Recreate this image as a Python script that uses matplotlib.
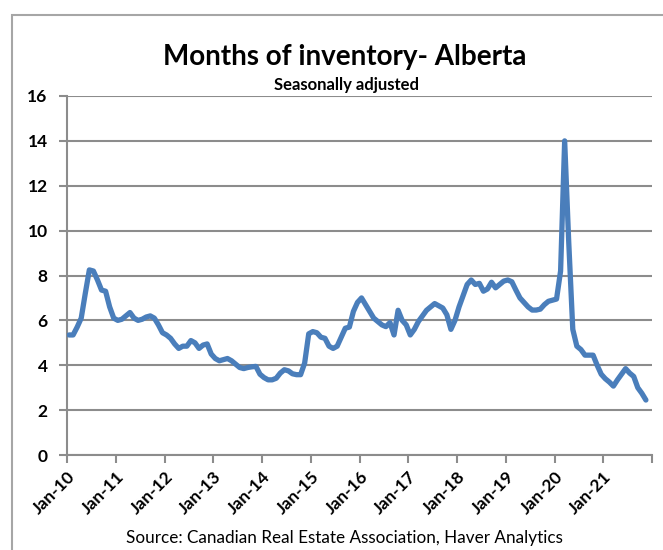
import matplotlib
matplotlib.use("Agg")
import matplotlib.pyplot as plt
from matplotlib.patches import Rectangle

# Monthly months-of-inventory, Jan-2010 .. Nov-2021
values = [
    5.35, 5.35, 5.7, 6.1, 7.2, 8.25, 8.2, 7.8, 7.35, 7.3, 6.6, 6.1,          # 2010
    6.0, 6.05, 6.2, 6.35, 6.1, 6.0, 6.05, 6.15, 6.2, 6.1, 5.8, 5.45,          # 2011
    5.35, 5.2, 4.95, 4.75, 4.85, 4.85, 5.1, 5.0, 4.75, 4.9, 4.95, 4.5,        # 2012
    4.3, 4.2, 4.25, 4.3, 4.2, 4.05, 3.9, 3.85, 3.9, 3.93, 3.95, 3.6,          # 2013
    3.45, 3.35, 3.35, 3.42, 3.65, 3.8, 3.75, 3.62, 3.58, 3.58, 4.1, 5.4,      # 2014
    5.5, 5.45, 5.25, 5.2, 4.85, 4.75, 4.85, 5.25, 5.65, 5.7, 6.4, 6.8,        # 2015
    7.0, 6.7, 6.4, 6.1, 5.95, 5.8, 5.72, 5.9, 5.35, 6.45, 6.0, 5.8,           # 2016
    5.35, 5.6, 5.95, 6.2, 6.45, 6.6, 6.75, 6.65, 6.55, 6.25, 5.6, 6.0,        # 2017
    6.6, 7.1, 7.6, 7.8, 7.6, 7.65, 7.3, 7.4, 7.7, 7.45, 7.6, 7.75,            # 2018
    7.8, 7.72, 7.35, 7.0, 6.8, 6.6, 6.46, 6.46, 6.5, 6.7, 6.85, 6.9,          # 2019
    6.95, 8.2, 14.0, 9.5, 5.6, 4.85, 4.7, 4.45, 4.45, 4.45, 4.0, 3.6,         # 2020
    3.4, 3.25, 3.07, 3.35, 3.6, 3.85, 3.65, 3.5, 3.0, 2.75, 2.45,             # 2021
]
tick_labels = ["Jan-10", "Jan-11", "Jan-12", "Jan-13", "Jan-14", "Jan-15",
               "Jan-16", "Jan-17", "Jan-18", "Jan-19", "Jan-20", "Jan-21"]
y_ticks = [0, 2, 4, 6, 8, 10, 12, 14, 16]

title = "Months of inventory- Alberta"
subtitle = "Seasonally adjusted"
source = "Source: Canadian Real Estate Association, Haver Analytics"

W, H = 663, 550
fig = plt.figure(figsize=(W / 100, H / 100), dpi=100)
fig.patch.set_facecolor("white")

# outer chart-area frame (cropped at right/bottom)
fig.patches.append(Rectangle((12 / W, -0.05), 1.2, 1 - 15 / H + 0.05,
                             transform=fig.transFigure, fill=False,
                             edgecolor="#a6a6a6", linewidth=1.5))

ax = fig.add_axes([67 / W, 1 - 455 / H, (652 - 67) / W, (455 - 96) / H])

x = [i + 0.5 for i in range(len(values))]
ax.plot(x, values, color="#4a7ebb", linewidth=3.8, solid_joinstyle="round",
        solid_capstyle="round", zorder=3)

ax.set_xlim(0, 144)
ax.set_ylim(0, 16)
ax.set_yticks(y_ticks)
ax.set_yticklabels([str(v) for v in y_ticks], fontsize=12.5, fontweight="bold",
                   family="Lato")
ax.yaxis.grid(True, color="#8c8c8c", linewidth=1.5)
ax.set_axisbelow(True)

xt = list(range(0, 145, 12))
ax.set_xticks(xt)
ax.set_xticklabels(tick_labels + [""], fontsize=12.5, fontweight="bold",
                   family="Lato", rotation=45, ha="right",
                   rotation_mode="anchor")

for s in ["top", "right"]:
    ax.spines[s].set_visible(False)
for s in ["left", "bottom"]:
    ax.spines[s].set_color("#8c8c8c")
    ax.spines[s].set_linewidth(1.5)
ax.tick_params(axis="both", colors="#8c8c8c", length=6, width=1.5,
               labelcolor="black")
ax.tick_params(axis="y", pad=8)
ax.tick_params(axis="x", pad=4)

fig.text(345 / W, 1 - 57 / H, title, ha="center", va="center", fontsize=20,
         fontweight="bold", family="Lato")
fig.text(346 / W, 1 - 85 / H, subtitle, ha="center", va="center",
         fontsize=12, fontweight="bold", family="Lato")
fig.text(344 / W, 1 - 538 / H, source, ha="center", va="center",
         fontsize=12.3, family="Lato")

fig.savefig("out.png", dpi=100, facecolor="white")
